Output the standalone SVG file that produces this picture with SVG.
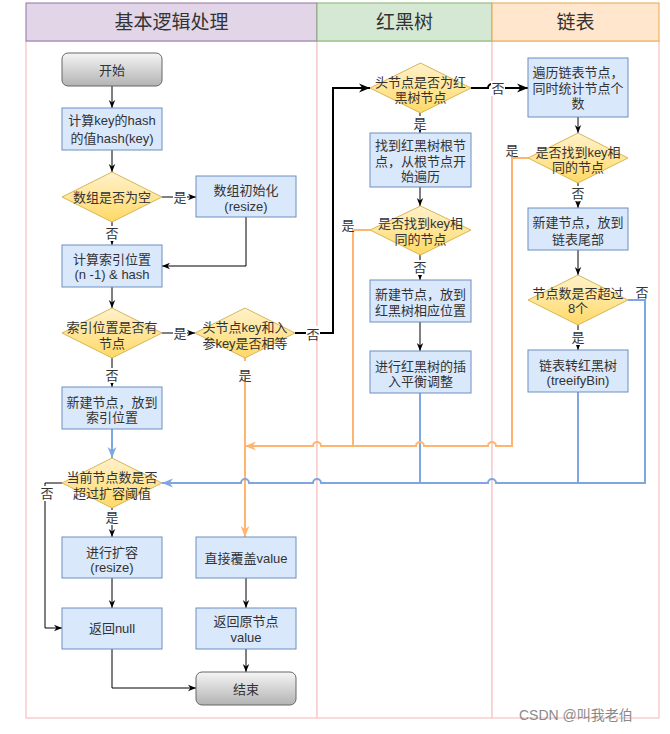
<svg xmlns="http://www.w3.org/2000/svg" width="670" height="734" viewBox="0 0 670 734">
<defs>
<linearGradient id="gGray" x1="0" y1="0" x2="0" y2="1"><stop offset="0" stop-color="#f5f5f5"/><stop offset="1" stop-color="#b3b3b3"/></linearGradient>
<linearGradient id="gYel" x1="0" y1="0" x2="0" y2="1"><stop offset="0" stop-color="#fff2cc"/><stop offset="1" stop-color="#ffd966"/></linearGradient>
<marker id="aK" viewBox="0 0 10 10" refX="10" refY="5" markerWidth="8" markerHeight="8" markerUnits="userSpaceOnUse" orient="auto"><path d="M0,1 L10,5 L0,9 L3,5 Z" fill="#000"/></marker>
<marker id="aK2" viewBox="0 0 10 10" refX="10" refY="5" markerWidth="11" markerHeight="11" markerUnits="userSpaceOnUse" orient="auto"><path d="M0,1 L10,5 L0,9 L3,5 Z" fill="#000"/></marker>
<marker id="aO" viewBox="0 0 10 10" refX="10" refY="5" markerWidth="11" markerHeight="11" markerUnits="userSpaceOnUse" orient="auto"><path d="M0,1 L10,5 L0,9 L3,5 Z" fill="#ffb570"/></marker>
<marker id="aB" viewBox="0 0 10 10" refX="10" refY="5" markerWidth="11" markerHeight="11" markerUnits="userSpaceOnUse" orient="auto"><path d="M0,1 L10,5 L0,9 L3,5 Z" fill="#7ea6e0"/></marker>
</defs>
<style>
text{font-family:"Liberation Sans","Noto Sans CJK SC",sans-serif;fill:#333;text-anchor:middle;}
.t{font-size:13px;}
.h{font-size:19px;}
.box{fill:#dae8fc;stroke:#6c8ebf;stroke-width:1;}
.term{fill:url(#gGray);stroke:#666;stroke-width:1;}
.dia{fill:url(#gYel);stroke:#d6b656;stroke-width:1;}
.k{fill:none;stroke:#000;stroke-width:1;}
.k2{fill:none;stroke:#000;stroke-width:2;}
.o{fill:none;stroke:#ffb570;stroke-width:2;}
.b{fill:none;stroke:#7ea6e0;stroke-width:2;}
.lane{fill:#fff;stroke:#f8cecc;stroke-width:1.5;}
.lbg{fill:#fff;}
.wm{font-size:14px;fill:#8a8a8a;text-anchor:start;}
</style>
<g id="lanes">
<rect class="lane" x="26" y="41" width="291" height="677"/>
<rect class="lane" x="317" y="41" width="175" height="677"/>
<rect class="lane" x="492" y="41" width="167" height="677"/>
<rect x="26" y="3" width="291" height="38" fill="#e1d5e7" stroke="#9673a6"/>
<rect x="317" y="3" width="175" height="38" fill="#d5e8d4" stroke="#82b366"/>
<rect x="492" y="3" width="167" height="38" fill="#ffe6cc" stroke="#e8a84c"/>
<text class="h" x="171.5" y="29">基本逻辑处理</text>
<text class="h" x="404.5" y="29">红黑树</text>
<text class="h" x="575.5" y="29">链表</text>
</g>
<g id="connectors">
<path class="k" d="M112,86 L112,108" marker-end="url(#aK)"/>
<path class="k" d="M112,150 L112,172" marker-end="url(#aK)"/>
<path class="k" d="M162,197 L196,197" marker-end="url(#aK)"/>
<path class="k" d="M112,222 L112,245" marker-end="url(#aK)"/>
<path class="k" d="M246,217 L246,266 L162,266" marker-end="url(#aK)"/>
<path class="k" d="M112,287 L112,308" marker-end="url(#aK)"/>
<path class="k" d="M162,333 L195,333" marker-end="url(#aK)"/>
<path class="k" d="M112,358 L112,387" marker-end="url(#aK)"/>
<path class="k2" d="M295,333 L333,333 L333,88 L370,88" marker-end="url(#aK2)"/>
<path class="o" d="M245,358 L245,537" marker-end="url(#aO)"/>
<path class="b" d="M112,429 L112,458" marker-end="url(#aB)"/>
<path class="k" d="M62,483 L45,483 L45,628 L62,628" marker-end="url(#aK)"/>
<path class="k" d="M112,508 L112,537" marker-end="url(#aK)"/>
<path class="k" d="M112,578 L112,608" marker-end="url(#aK)"/>
<path class="k" d="M112,649 L112,688 L196,688" marker-end="url(#aK)"/>
<path class="k" d="M246,578 L246,608" marker-end="url(#aK)"/>
<path class="k" d="M246,649 L246,672" marker-end="url(#aK)"/>
<path class="k" d="M420,113 L420,133" marker-end="url(#aK)"/>
<path class="k2" d="M471,88 L488,88 A4,4 0 0 1 496,88 L528,88" marker-end="url(#aK2)"/>
<path class="k" d="M420,187 L420,206" marker-end="url(#aK)"/>
<path class="o" d="M370,230 L353,230 L353,446"/>
<path class="k" d="M420,255 L420,280" marker-end="url(#aK)"/>
<path class="k" d="M420,322 L420,351" marker-end="url(#aK)"/>
<path class="b" d="M420,393 L420,483"/>
<path class="k" d="M578,117 L578,133" marker-end="url(#aK)"/>
<path class="o" d="M529,158 L512,158 L512,446 L496,446 A4,4 0 0 0 488,446 L424,446 A4,4 0 0 0 416,446 L321,446 A4,4 0 0 0 313,446 L245,446" marker-end="url(#aO)"/>
<path class="k" d="M578,183 L578,208" marker-end="url(#aK)"/>
<path class="k" d="M578,250 L578,275" marker-end="url(#aK)"/>
<path class="k" d="M578,325 L578,350" marker-end="url(#aK)"/>
<path class="b" d="M578,392 L578,483"/>
<path class="b" d="M628,300 L645,300 L645,483 L496,483 A4,4 0 0 0 488,483 L321,483 A4,4 0 0 0 313,483 L249,483 A4,4 0 0 0 241,483 L162,483" marker-end="url(#aB)"/>
<g id="edge-labels">
<rect class="lbg" x="173" y="190" width="14" height="15"/><text class="t" x="180" y="202">是</text>
<rect class="lbg" x="105" y="226" width="14" height="15"/><text class="t" x="112" y="238">否</text>
<rect class="lbg" x="173" y="326" width="14" height="15"/><text class="t" x="180" y="338">是</text>
<rect class="lbg" x="105" y="368" width="14" height="15"/><text class="t" x="112" y="380">否</text>
<rect class="lbg" x="306" y="326" width="14" height="15"/><text class="t" x="313" y="339">否</text>
<rect class="lbg" x="238" y="361" width="14" height="18"/><text class="t" x="245" y="380">是</text>
<rect class="lbg" x="40" y="486" width="14" height="15"/><text class="t" x="47" y="498">否</text>
<rect class="lbg" x="105" y="510" width="14" height="15"/><text class="t" x="112" y="522">是</text>
<rect class="lbg" x="413" y="116" width="14" height="14"/><text class="t" x="420" y="128">是</text>
<rect class="lbg" x="491" y="81" width="14" height="15"/><text class="t" x="498" y="93">否</text>
<text class="t" x="348" y="230">是</text>
<rect class="lbg" x="413" y="260" width="14" height="15"/><text class="t" x="420" y="272">否</text>
<text class="t" x="512" y="155">是</text>
<rect class="lbg" x="571" y="186" width="14" height="15"/><text class="t" x="578" y="198">否</text>
<text class="t" x="642" y="297">否</text>
<rect class="lbg" x="571" y="330" width="14" height="15"/><text class="t" x="578" y="342">是</text>
</g>
</g>
<g id="n-start"><rect class="term" x="62" y="53" width="100" height="33" rx="6"/><text class="t" x="112" y="74.5">开始</text></g>
<g id="n-hash"><rect class="box" x="62" y="108" width="100" height="42"/><text class="t" x="112" y="124.5">计算key的hash</text><text class="t" x="112" y="142.5">的值hash(key)</text></g>
<g id="n-empty"><polygon class="dia" points="62,197 112,172 162,197 112,222"/><text class="t" x="112" y="201.5">数组是否为空</text></g>
<g id="n-init"><rect class="box" x="196" y="176" width="100" height="41"/><text class="t" x="246" y="194.5">数组初始化</text><text class="t" x="246" y="210.5">(resize)</text></g>
<g id="n-index"><rect class="box" x="62" y="245" width="100" height="42"/><text class="t" x="112" y="263.5">计算索引位置</text><text class="t" x="112" y="278.5">(n -1) &amp; hash</text></g>
<g id="n-has"><polygon class="dia" points="62,333 112,308 162,333 112,358"/><text class="t" x="112" y="331.5">索引位置是否有</text><text class="t" x="112" y="347.5">节点</text></g>
<g id="n-keyeq"><polygon class="dia" points="195,333 245,308 295,333 245,358"/><text class="t" x="245" y="331.5">头节点key和入</text><text class="t" x="245" y="347.5">参key是否相等</text></g>
<g id="n-newidx"><rect class="box" x="62" y="387" width="100" height="42"/><text class="t" x="112" y="406.5">新建节点，放到</text><text class="t" x="112" y="421.5">索引位置</text></g>
<g id="n-threshold"><polygon class="dia" points="62,483 112,458 162,483 112,508"/><text class="t" x="112" y="481.5">当前节点数是否</text><text class="t" x="112" y="497.5">超过扩容阈值</text></g>
<g id="n-resize"><rect class="box" x="62" y="537" width="100" height="41"/><text class="t" x="112" y="556.5">进行扩容</text><text class="t" x="112" y="571.5">(resize)</text></g>
<g id="n-retnull"><rect class="box" x="62" y="608" width="100" height="41"/><text class="t" x="112" y="632.5">返回null</text></g>
<g id="n-overwrite"><rect class="box" x="196" y="537" width="100" height="41"/><text class="t" x="246" y="562.5">直接覆盖value</text></g>
<g id="n-retold"><rect class="box" x="196" y="608" width="100" height="41"/><text class="t" x="246" y="625.5">返回原节点</text><text class="t" x="246" y="641.5">value</text></g>
<g id="n-end"><rect class="term" x="196" y="672" width="100" height="33" rx="6"/><text class="t" x="246" y="693.5">结束</text></g>
<g id="n-rb"><polygon class="dia" points="370,88 420.5,63 471,88 420.5,113"/><text class="t" x="420.5" y="86.5">头节点是否为红</text><text class="t" x="420.5" y="101.5">黑树节点</text></g>
<g id="n-rbroot"><rect class="box" x="370" y="133" width="101" height="54"/><text class="t" x="420.5" y="149.5">找到红黑树根节</text><text class="t" x="420.5" y="165.5">点，从根节点开</text><text class="t" x="420.5" y="180.5">始遍历</text></g>
<g id="n-rbfind"><polygon class="dia" points="370,230 420.5,206 471,230 420.5,255"/><text class="t" x="420.5" y="227.5">是否找到key相</text><text class="t" x="420.5" y="243.5">同的节点</text></g>
<g id="n-rbnew"><rect class="box" x="370" y="280" width="101" height="42"/><text class="t" x="420.5" y="298.5">新建节点，放到</text><text class="t" x="420.5" y="314.5">红黑树相应位置</text></g>
<g id="n-rbbal"><rect class="box" x="370" y="351" width="101" height="42"/><text class="t" x="420.5" y="370.5">进行红黑树的插</text><text class="t" x="420.5" y="385.5">入平衡调整</text></g>
<g id="n-listtrav"><rect class="box" x="528" y="58" width="100" height="59"/><text class="t" x="578" y="76.5">遍历链表节点，</text><text class="t" x="578" y="92.5">同时统计节点个</text><text class="t" x="578" y="107.5">数</text></g>
<g id="n-listfind"><polygon class="dia" points="528,158 578,133 628,158 578,183"/><text class="t" x="578" y="156.5">是否找到key相</text><text class="t" x="578" y="171.5">同的节点</text></g>
<g id="n-listnew"><rect class="box" x="528" y="208" width="100" height="42"/><text class="t" x="578" y="226.5">新建节点，放到</text><text class="t" x="578" y="243.5">链表尾部</text></g>
<g id="n-over8"><polygon class="dia" points="528,300 578,275 628,300 578,325"/><text class="t" x="578" y="297.5">节点数是否超过</text><text class="t" x="578" y="312.5">8个</text></g>
<g id="n-treeify"><rect class="box" x="528" y="350" width="100" height="42"/><text class="t" x="578" y="369.5">链表转红黑树</text><text class="t" x="578" y="384.5">(treeifyBin)</text></g>
<text class="wm" x="519" y="720">CSDN @叫我老伯</text>
</svg>
